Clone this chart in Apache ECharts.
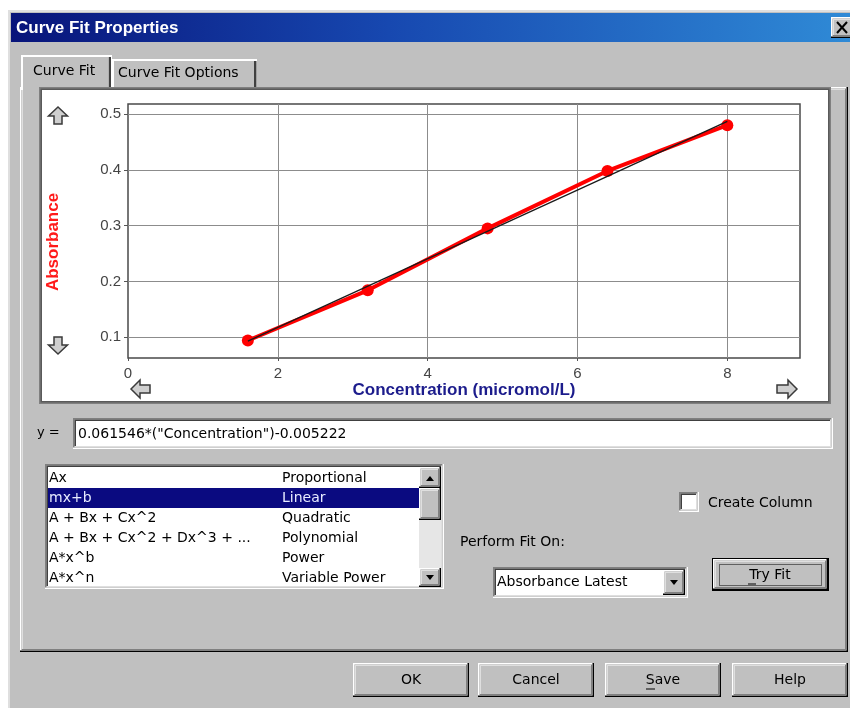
<!DOCTYPE html>
<html><head><meta charset="utf-8">
<script src="https://cdn.jsdelivr.net/npm/echarts@6/dist/echarts.min.js"></script>
<style>html,body{margin:0;padding:0;background:#fff}#c{width:850px;height:708px}</style>
</head><body><div id="c"></div><script>
// ---- data ----
const concentration = [1.6, 3.2, 4.8, 6.4, 8.0];
const absorbance = [0.094, 0.184, 0.295, 0.398, 0.480];
const fitX = [1.6, 8.0];
const fitY = [0.093, 0.487];
const fitEquation = '0.061546*("Concentration")-0.005222';
const fitForms = ['Ax', 'mx+b', 'A + Bx + Cx^2', 'A + Bx + Cx^2 + Dx^3 + ...', 'A*x^b', 'A*x^n'];
const fitTypes = ['Proportional', 'Linear', 'Quadratic', 'Polynomial', 'Power', 'Variable Power'];
const buttonLabels = ['OK', 'Cancel', 'Save', 'Help'];
const tabLabels = ['Curve Fit', 'Curve Fit Options'];

// ---- dialog chrome helpers ----
const G = [];
const UI = '"DejaVu Sans"';
function R(x, y, w, h, fill) { G.push({type: 'rect', silent: true, shape: {x: x, y: y, width: w, height: h}, style: {fill: fill}}); }
function T(x, y, s, o) {
  o = o || {};
  const al = o.align || 'left';
  G.push({type: 'text', silent: true, x: x, y: y, style: {
    text: s, fill: o.fill || '#000',
    font: (o.weight || 'normal') + ' ' + (o.size || 14) + 'px ' + (o.family || UI),
    align: al, verticalAlign: 'middle', textAlign: al, textVerticalAlign: 'middle'}});
}
function L(x1, y1, x2, y2, c, w, dash) { G.push({type: 'line', silent: true, shape: {x1: x1, y1: y1, x2: x2, y2: y2}, style: {stroke: c, lineWidth: w || 1, lineDash: dash || null}}); }
function P(pts, fill, stroke, lw) { G.push({type: 'polygon', silent: true, shape: {points: pts}, style: {fill: fill, stroke: stroke || null, lineWidth: lw || 1}}); }
function raised(x, y, w, h, fill) {
  R(x, y, w, h, '#000'); R(x, y, w - 1.5, h - 1.5, '#fff');
  R(x + 1.5, y + 1.5, w - 3, h - 3, '#808080'); R(x + 1.5, y + 1.5, w - 4.5, h - 4.5, '#dfdfdf');
  R(x + 3, y + 3, w - 6, h - 6, fill || '#c0c0c0');
}
function sunken(x, y, w, h, fill) {
  R(x, y, w, h, '#fff'); R(x, y, w - 1.5, h - 1.5, '#808080');
  R(x + 1.5, y + 1.5, w - 3, h - 3, '#dfdfdf'); R(x + 1.5, y + 1.5, w - 4.5, h - 4.5, '#404040');
  R(x + 3, y + 3, w - 6, h - 6, fill || '#fff');
}

// window
R(0, 0, 850, 708, '#ffffff');
R(8, 10, 842, 698, '#dfdfdf');
R(10, 12, 840, 696, '#c0c0c0');
G.push({type: 'rect', silent: true, shape: {x: 11, y: 13, width: 839, height: 29}, style: {fill: {type: 'linear', x: 0, y: 0, x2: 1, y2: 0, colorStops: [{offset: 0, color: '#08147a'}, {offset: 0.45, color: '#1748b0'}, {offset: 1, color: '#2f8ad6'}]}}});
T(16, 28, 'Curve Fit Properties', {fill: '#fff', weight: 'bold', size: 17, family: '"Liberation Sans"'});
raised(831, 17, 22, 21);
L(837, 22, 847, 33, '#000', 2); L(847, 22, 837, 33, '#000', 2);

// tab panel
raised(20, 87, 828, 565);
// unselected tab
R(112, 59, 145, 29, '#fff'); R(254, 61, 2.5, 27, '#404040'); R(114, 61, 140, 27, '#c0c0c0');
T(118, 73, tabLabels[1]);
// selected tab
R(21, 55, 91, 35, '#fff'); R(108.5, 57, 2.5, 32, '#404040'); R(23, 57, 85.5, 33, '#c0c0c0');
T(33, 71, tabLabels[0]);

// chart box
R(39, 87, 792, 317, '#808080');
R(40.5, 88.5, 789, 314, '#5a5a5a');
R(42, 90, 786, 311, '#ffffff');
// scroll arrows of the graph
const ac = '#cfcfcf', as = '#3a3a3a';
P([[58, 107], [67.5, 116], [62, 116], [62, 124], [54, 124], [54, 116], [48.5, 116]], ac, as, 1.5);
P([[58, 354], [67.5, 345], [62, 345], [62, 337], [54, 337], [54, 345], [48.5, 345]], ac, as, 1.5);
P([[131, 389], [140, 380], [140, 385], [150, 385], [150, 393], [140, 393], [140, 398]], ac, as, 1.5);
P([[797, 389], [788, 380], [788, 385], [777, 385], [777, 393], [788, 393], [788, 398]], ac, as, 1.5);

// equation
T(37, 433, 'y =', {size: 13});
sunken(73, 418, 760, 31, '#fff');
T(78, 434, fitEquation);

// list box of fit types
sunken(45, 464, 399, 125, '#fff');
R(48, 488, 371, 20, '#0a0a80');
fitForms.forEach(function (f, i) {
  const sel = i === 1;
  T(49, 478 + 20 * i, f, {fill: sel ? '#e8ecff' : '#000'});
  T(282, 478 + 20 * i, fitTypes[i], {fill: sel ? '#e8ecff' : '#000'});
});
R(419, 467, 22, 119, '#e6e6e6');
raised(419, 467, 22, 21);
P([[426, 481], [434, 481], [430, 476]], '#000');
raised(419, 488, 22, 32);
raised(419, 568, 22, 19);
P([[426, 575], [434, 575], [430, 580]], '#000');

// right controls
sunken(679, 492, 20, 20, '#fff');
T(708, 503, 'Create Column');
T(460, 542, 'Perform Fit On:');
sunken(493, 567, 195, 31, '#fff');
T(497, 582, 'Absorbance Latest');
raised(663, 570, 22, 25);
P([[670, 580], [678, 580], [674, 585]], '#000');
R(712, 558, 117, 33, '#000');
raised(713, 559, 115, 31);
G.push({type: 'rect', silent: true, shape: {x: 719.5, y: 564.5, width: 102, height: 21}, style: {fill: null, stroke: '#000', lineWidth: 1, lineDash: [1, 1]}});
T(770, 575, 'Try Fit', {align: 'center'});
L(748, 584, 756, 584, '#000', 1);

// bottom buttons
const bx = [353, 478, 605, 732];
buttonLabels.forEach(function (b, i) {
  raised(bx[i], 663, 116, 34);
  T(bx[i] + 58, 680, b, {align: 'center'});
});
L(646, 689, 655, 689, '#000', 1);

// ---- chart ----
const chart = echarts.init(document.getElementById('c'), null, {renderer: 'canvas'});
chart.setOption({
  animation: false,
  graphic: {z: -10, elements: G},
  grid: {left: 128, top: 104, width: 672, height: 254, show: true, backgroundColor: '#fff',
         borderColor: '#4a4a4a', borderWidth: 1.5, z: 5, outerBoundsMode: 'none', containLabel: false},
  xAxis: {
    type: 'value', min: 0, max: 8.97, splitNumber: 5, z: 5,
    axisLine: {show: false},
    axisTick: {show: true, length: 3, lineStyle: {color: '#555'}},
    splitLine: {show: true, showMinLine: false, showMaxLine: false, lineStyle: {color: '#8c8c8c', width: 1}},
    axisLabel: {showMaxLabel: false, color: '#444', fontSize: 15, fontFamily: 'Liberation Sans', margin: 8},
    name: 'Concentration (micromol/L)', nameLocation: 'middle', nameGap: 22,
    nameTextStyle: {color: '#1c1c8c', fontWeight: 'bold', fontSize: 17, fontFamily: 'Liberation Sans'}
  },
  yAxis: {
    type: 'value', min: 0.0626, max: 0.518, splitNumber: 5, z: 5,
    axisLine: {show: false},
    axisTick: {show: true, length: 4, lineStyle: {color: '#555'}},
    splitLine: {show: true, showMinLine: false, showMaxLine: false, lineStyle: {color: '#8c8c8c', width: 1}},
    axisLabel: {showMinLabel: false, showMaxLabel: false, color: '#444', fontSize: 15, fontFamily: 'Liberation Sans', margin: 7},
    name: 'Absorbance', nameLocation: 'middle', nameRotate: 90, nameGap: 66,
    nameTextStyle: {color: '#ff1a1a', fontWeight: 'bold', fontSize: 17, fontFamily: 'Liberation Sans', padding: [0, 22, 0, 0]}
  },
  series: [
    {type: 'line', name: 'Absorbance', z: 10, data: concentration.map(function (x, i) { return [x, absorbance[i]]; }),
     symbol: 'circle', symbolSize: 12, itemStyle: {color: '#ff0000'}, lineStyle: {color: '#ff0000', width: 4}},
    {type: 'line', name: 'Linear fit', z: 11, data: fitX.map(function (x, i) { return [x, fitY[i]]; }),
     symbol: 'none', lineStyle: {color: '#1a1a1a', width: 1.3}}
  ]
});
</script></body></html>
